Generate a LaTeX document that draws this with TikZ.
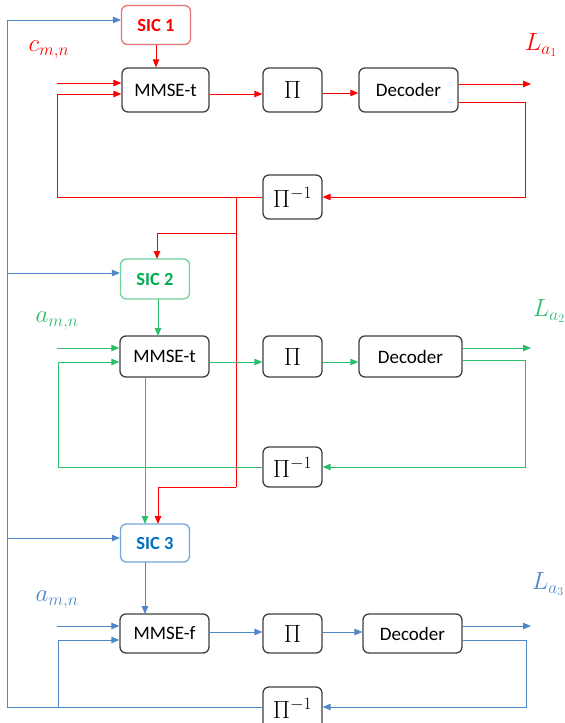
\documentclass[tikz,border=0pt]{standalone}
\usepackage{fontspec}
\setmainfont{Carlito}
\usetikzlibrary{arrows.meta}
\definecolor{cred}{HTML}{FF0000}
\definecolor{cgreen}{HTML}{2DBE6C}
\definecolor{cblue}{HTML}{4F86C6}
\definecolor{sicred}{HTML}{E57373}
\definecolor{sicgreen}{HTML}{6FD39B}
\definecolor{sicblue}{HTML}{72A7DC}
\definecolor{txtgreen}{HTML}{00B050}
\definecolor{txtblue}{HTML}{0070C0}
\definecolor{boxgray}{HTML}{404040}
\tikzset{
  blockbox/.style={draw=boxgray, line width=1.3pt, rounded corners=6pt, fill=white,
    font=\fontsize{19}{22}\selectfont, inner sep=0pt, text=black},
  pibox/.style={blockbox, minimum width=59pt, font=\fontsize{25}{28}\selectfont},
  sicbox/.style={rounded corners=6pt, line width=1.3pt, fill=white, inner sep=0pt,
    minimum width=69pt, minimum height=39pt, font=\fontsize{18.5}{22}\selectfont\bfseries},
  conn/.style={line width=0.9pt, -{Triangle[length=8pt,width=6.5pt]}},
  wire/.style={line width=0.9pt},
  mlabel/.style={font=\fontsize{26}{30}\selectfont, inner sep=0pt},
}
\begin{document}
\begin{tikzpicture}[x=1pt,y=-1pt]
\useasboundingbox (0,0) rectangle (565,723);

% ---------- Row 1 ----------
\node[sicbox, draw=sicred, text=cred] (sic1) at (156,25) {SIC 1};
\node[blockbox, minimum width=87pt, minimum height=44pt] (mm1) at (165.5,90) {MMSE-t};
\node[pibox, minimum height=44pt] (pi1) at (292.5,90) {$\Pi$};
\node[blockbox, minimum width=99pt, minimum height=44pt] (dec1) at (408.5,90) {Decoder};
\node[pibox, minimum height=44pt] (ipi1) at (292.5,197) {$\Pi^{-1}$};
\node[mlabel, text=cred] (c1) at (49,50) {$c_{m,n}$};
\node[mlabel, text=cred] (L1) at (541,45) {$L_{a_1}$};

\coordinate (in1) at (57,83);
\coordinate (lp1) at (57,94);
\coordinate (o1) at (531,84);
\coordinate (fb1) at (525,102);
\coordinate (j1) at (236,197);
\coordinate (r2) at (236,233);
\coordinate (r3) at (236,487);

\begin{scope}[draw=cred, color=cred]
\draw[conn] (sic1.south) -- (sic1.south |- mm1.north);
\draw[conn] (in1) -- (in1 -| mm1.west);
\draw[conn] (ipi1.west) -- (lp1 |- ipi1.west) -- (lp1) -- (lp1 -| mm1.west);
\draw[conn] (mm1.east |- lp1) -- (pi1.west |- lp1);
\draw[conn] (pi1.east |- 0,93) -- (dec1.west |- 0,93);
\draw[conn] (dec1.east |- o1) -- (o1);
\draw[conn] (dec1.east |- fb1) -- (fb1) -- (fb1 |- ipi1.east) -- (ipi1.east);
\draw[wire] (j1) -- (r3);
\draw[conn] (r2) -- (157,233) -- (157,259);
\draw[conn] (r3) -- (158,487) -- (158,524);
\end{scope}

% ---------- Row 2 ----------
\node[sicbox, draw=sicgreen, text=txtgreen, minimum height=40pt] (sic2) at (155,279) {SIC 2};
\node[blockbox, minimum width=89pt, minimum height=41pt] (mm2) at (164.5,356.5) {MMSE-t};
\node[pibox, minimum height=41pt] (pi2) at (292.5,356.5) {$\Pi$};
\node[blockbox, minimum width=103pt, minimum height=41pt] (dec2) at (410.5,356.5) {Decoder};
\node[pibox, minimum height=40pt] (ipi2) at (292.5,467) {$\Pi^{-1}$};
\node[mlabel, text=cgreen] (a2) at (57,321) {$a_{m,n}$};
\node[mlabel, text=cgreen] (L2) at (549,311) {$L_{a_2}$};

\coordinate (in2) at (57,348);
\coordinate (lp2) at (58,362);
\coordinate (o2) at (531,348);
\coordinate (fb2) at (525,360);

\begin{scope}[draw=cgreen, color=cgreen]
\draw[conn] (158,299) -- (158,336);
\draw[conn] (in2) -- (in2 -| mm2.west);
\draw[conn] (ipi2.west) -- (lp2 |- ipi2.west) -- (lp2) -- (lp2 -| mm2.west);
\draw[conn] (mm2.east |- lp2) -- (pi2.west |- lp2);
\draw[conn] (pi2.east |- lp2) -- (dec2.west |- lp2);
\draw[conn] (dec2.east |- o2) -- (o2);
\draw[conn] (dec2.east |- fb2) -- (fb2) -- (fb2 |- ipi2.east) -- (ipi2.east);
\draw[conn] (145,377) -- (145,524);
\end{scope}

% ---------- Row 3 ----------
\node[sicbox, draw=sicblue, text=txtblue, minimum height=38pt] (sic3) at (155,543) {SIC 3};
\node[blockbox, minimum width=89pt, minimum height=39pt] (mm3) at (164.5,633.5) {MMSE-f};
\node[pibox, minimum height=39pt] (pi3) at (292.5,633.5) {$\Pi$};
\node[blockbox, minimum width=99pt, minimum height=39pt] (dec3) at (412.5,633.5) {Decoder};
\node[pibox, minimum height=42pt] (ipi3) at (292.5,708) {$\Pi^{-1}$};
\node[mlabel, text=cblue] (a3) at (57,600) {$a_{m,n}$};
\node[mlabel, text=cblue] (L3) at (548,584) {$L_{a_3}$};

\coordinate (in3) at (57,626);
\coordinate (lp3) at (58,640);
\coordinate (o3) at (531,626);
\coordinate (fb3) at (526,640);
\coordinate (bus) at (7,707);

\begin{scope}[draw=cblue, color=cblue]
\draw[conn] (145,562) -- (145,614);
\draw[conn] (in3) -- (in3 -| mm3.west);
\draw[conn] (lp3 |- bus) -- (lp3) -- (lp3 -| mm3.west);
\draw[conn] (mm3.east |- 0,632) -- (pi3.west |- 0,632);
\draw[conn] (pi3.east |- 0,632) -- (dec3.west |- 0,632);
\draw[conn] (dec3.east |- o3) -- (o3);
\draw[conn] (dec3.east |- fb3) -- (fb3) -- (fb3 |- 0,707) -- (ipi3.east |- 0,707);
\draw[conn] (ipi3.west |- bus) -- (bus) -- (7,20) -- (sic1.west |- 0,20);
\draw[conn] (7,273) -- (sic2.west |- 0,273);
\draw[conn] (7,538) -- (sic3.west |- 0,538);
\end{scope}
\end{tikzpicture}
\end{document}
